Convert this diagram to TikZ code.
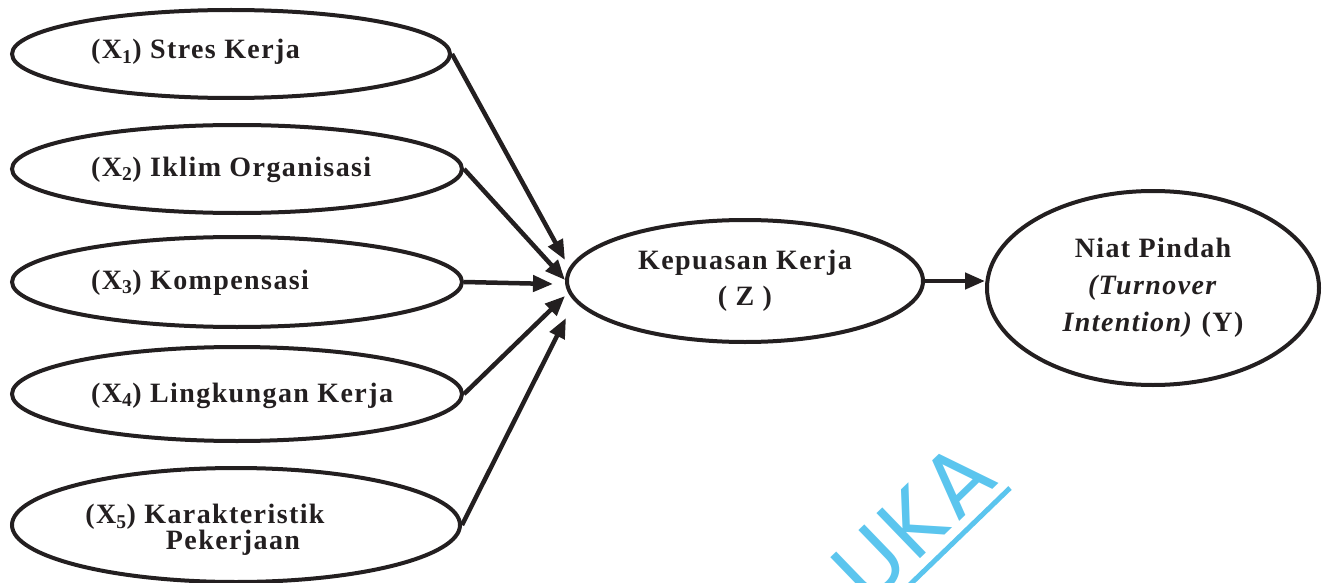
\documentclass[tikz,border=0pt]{standalone}
\usepackage{fontspec}
\setmainfont{Liberation Serif}[LetterSpace=5]
\newfontfamily\wmfont{Poppins}[LetterSpace=4]
\usetikzlibrary{arrows.meta,shapes.geometric,calc}
\definecolor{wmblue}{HTML}{5BC5EE}
\definecolor{ink}{HTML}{231F20}
\begin{document}
\begin{tikzpicture}[x=1pt,y=-1pt,
  var/.style={draw=ink, line width=4pt, ellipse, inner sep=0pt, text=ink},
  lbl/.style={font=\fontsize{28}{36}\selectfont\bfseries, inner sep=0pt, text=ink},
  arr/.style={draw=ink, line width=4.5pt, -{Triangle[length=20pt,width=16pt]}},
  wm/.style={wmblue, font=\wmfont\fontsize{90}{90}\selectfont, inner sep=0pt},
]
\useasboundingbox (0,0) rectangle (1325,583);
% watermark
\begin{scope}
\clip (0,0) rectangle (1325,583);
\node[wm, rotate=44, anchor=base east] (wmtext) at (1001,481) {UKA};
\coordinate (wma) at (1010,488);
\coordinate (wmb) at (866,627);
\draw[wmblue, line width=5pt] (wma) -- (wmb);
\end{scope}
% exogenous variables
\node[var, minimum width=438pt, minimum height=88pt] (X1) at (231,54) {};
\node[var, minimum width=450pt, minimum height=88pt] (X2) at (237,169) {};
\node[var, minimum width=450pt, minimum height=90pt] (X3) at (237,282) {};
\node[var, minimum width=450pt, minimum height=94pt] (X4) at (237,394) {};
\node[var, minimum width=448pt, minimum height=114pt] (X5) at (236,525) {};
\node[lbl, anchor=base west] (l1) at (91,59) {(X\textsubscript{1}) Stres Kerja};
\node[lbl, anchor=base west] (l2) at (91,176) {(X\textsubscript{2}) Iklim Organisasi};
\node[lbl, anchor=base west] (l3) at (91,289) {(X\textsubscript{3}) Kompensasi};
\node[lbl, anchor=base west] (l4) at (91,402) {(X\textsubscript{4}) Lingkungan Kerja};
\node[lbl, align=center, anchor=center, font=\fontsize{28}{26}\selectfont\bfseries] (l5) at (205,530) {(X\textsubscript{5}) Karakteristik\\\hspace*{56pt}Pekerjaan};
% mediator and outcome
\node[var, lbl, draw=ink, line width=4pt, ellipse, minimum width=356pt, minimum height=122pt, align=center, font=\fontsize{28}{36}\selectfont\bfseries] (Z) at (745,281) {Kepuasan Kerja\\( Z )};
\node[var, lbl, draw=ink, line width=4pt, ellipse, minimum width=332pt, minimum height=194pt, align=center, font=\fontsize{28}{37}\selectfont\bfseries] (Y) at (1153,288) {Niat Pindah\\\textit{(Turnover}\\\textit{Intention)} (Y)};
% arrow targets
\coordinate (t1) at ($(Z.west)+(0,-21)$);
\coordinate (t2) at ($(Z.west)+(0,-1)$);
\coordinate (t3) at ($(Z.west)+(-12,3)$);
\coordinate (t4) at ($(Z.west)+(0,15)$);
\coordinate (t5) at ($(Z.west)+(1,37)$);
\draw[arr] (X1.east) -- (t1);
\draw[arr] (X2.east) -- (t2);
\draw[arr] (X3.east) -- (t3);
\draw[arr] (X4.east) -- (t4);
\draw[arr] (X5.east) -- (t5);
\draw[arr] (Z.east) -- (Z.east -| Y.west);
\end{tikzpicture}
\end{document}
